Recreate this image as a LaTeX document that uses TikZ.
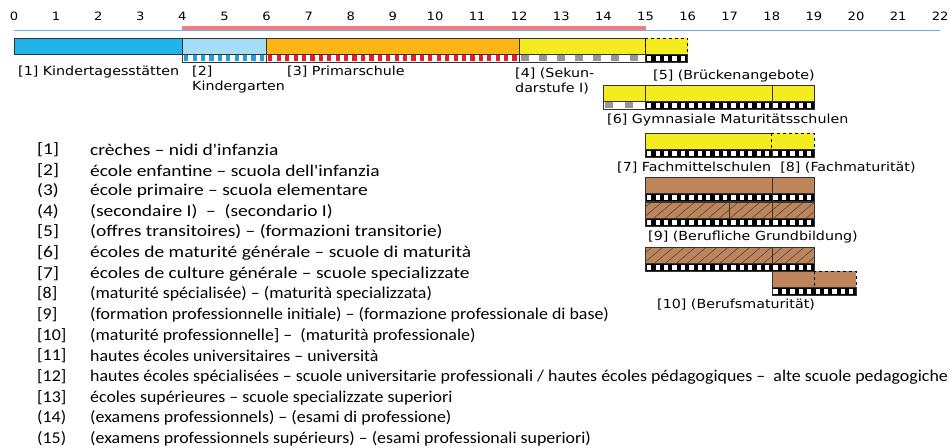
\documentclass[tikz,border=0pt]{standalone}
\usepackage{fontspec}
\setmainfont{Carlito}
\newfontfamily\chartfont[FakeStretch=1.14]{DejaVu Sans}
\newfontfamily\legendwide[FakeStretch=1.18]{Carlito}
\newfontfamily\legendnarrow[FakeStretch=1.085]{Carlito}
\usetikzlibrary{patterns.meta}
\definecolor{kitablue}{RGB}{33,180,232}
\definecolor{kgblue}{RGB}{166,221,246}
\definecolor{primorange}{RGB}{253,181,21}
\definecolor{sekyellow}{RGB}{245,236,32}
\definecolor{berufbrown}{RGB}{190,132,90}
\definecolor{stripblue}{RGB}{30,160,220}
\definecolor{stripred}{RGB}{237,28,36}
\definecolor{stripgray}{RGB}{150,150,150}
\definecolor{axisblue}{RGB}{110,175,232}
\definecolor{axisred}{RGB}{238,128,128}

\tikzset{
  barline/.style={draw=black!80,line width=0.6pt},
  dashbar/.style={draw=black,dashed,line width=0.8pt},
  hatchbar/.style={barline,preaction={fill=berufbrown},
    pattern={Lines[angle=40,distance=7pt,line width=0.5pt]},pattern color=black!75},
  yearnum/.style={font=\chartfont\fontsize{11.5}{12}\selectfont,inner sep=0pt},
  chartlabel/.style={font=\chartfont\fontsize{12.5}{15}\selectfont,anchor=west,inner sep=0pt,align=left},
  legendnum/.style={font=\legendwide\fontsize{16.5}{18}\selectfont,anchor=west,inner sep=0pt},
  legendtext/.style={font=\legendwide\fontsize{16.5}{18}\selectfont,anchor=west,inner sep=0pt},
  legendtight/.style={font=\legendnarrow\fontsize{16.5}{18}\selectfont,anchor=west,inner sep=0pt}
}

% a school bar: from year #1 to year #2, top at #3, style #4
\newcommand{\schoolbox}[4]{\draw[#4] (#1,#3) rectangle (#2,{#3+16});}
% the chequered strip below a bar: base colour #4, blocks #5, period #6, block width #7, inset #8
\newcommand{\checkstrip}[8]{%
  \begin{scope}
    \clip (#1,#3) rectangle (#2,{#3+8});
    \fill[#4] (#1,#3) rectangle (#2,{#3+8});
    \pgfmathtruncatemacro{\nblk}{(#2-#1)/#6}
    \foreach \k in {0,...,\nblk}
      \fill[#5] ({#1+0.04+\k*#6},{#3+#8}) rectangle ({#1+0.04+\k*#6+#7},{#3+8-#8});
  \end{scope}
  \draw[barline] (#1,#3) rectangle (#2,{#3+8});}

\begin{document}
\begin{tikzpicture}[x=1pt,y=-1pt]
  \useasboundingbox (0,0) rectangle (949,447);

  \begin{scope}[xshift=14pt,x=42.1pt]
    % year axis
    \foreach \n in {0,...,22}
      \node[yearnum] (year\n) at (\n,16) {\n};
    \draw[axisblue,line width=1.3pt] (0,30.3) -- (22,30.3);
    \draw[axisred,line width=4pt] (4,28.3) -- (15,28.3);

    % compulsory school
    \schoolbox{0}{4}{38}{barline,fill=kitablue}
    \schoolbox{4}{6}{38}{barline,fill=kgblue}
    \checkstrip{4}{6}{54}{white}{stripblue}{0.2}{0.1}{0.6}
    \schoolbox{6}{12}{38}{barline,fill=primorange}
    \checkstrip{6}{12}{54}{white}{stripred}{0.2}{0.1}{0.6}
    \schoolbox{12}{15}{38}{barline,fill=sekyellow}
    \checkstrip{12}{15}{54}{white}{stripgray}{0.43}{0.19}{0.6}
    \schoolbox{15}{16}{38}{dashbar,fill=sekyellow}
    \checkstrip{15}{16}{54}{black}{white}{0.2}{0.1}{1.5}

    % gymnasium
    \schoolbox{14}{15}{85}{barline,fill=sekyellow}
    \checkstrip{14}{15}{101}{white}{stripgray}{0.47}{0.19}{0.6}
    \schoolbox{15}{18}{85}{barline,fill=sekyellow}
    \checkstrip{15}{18}{101}{black}{white}{0.2}{0.1}{1.5}
    \schoolbox{18}{19}{85}{barline,fill=sekyellow}
    \checkstrip{18}{19}{101}{black}{white}{0.2}{0.1}{1.5}

    % fachmittelschulen
    \schoolbox{15}{18}{133}{barline,fill=sekyellow}
    \checkstrip{15}{18}{149}{black}{white}{0.2}{0.1}{1.5}
    \schoolbox{18}{19}{133}{dashbar,fill=sekyellow}
    \checkstrip{18}{19}{149}{black}{white}{0.2}{0.1}{1.5}

    % berufliche grundbildung
    \schoolbox{15}{18}{177}{barline,fill=berufbrown}
    \checkstrip{15}{18}{193}{black}{white}{0.2}{0.1}{1.5}
    \schoolbox{18}{19}{177}{barline,fill=berufbrown}
    \checkstrip{18}{19}{193}{black}{white}{0.2}{0.1}{1.5}
    \schoolbox{15}{17}{202}{hatchbar}
    \schoolbox{17}{18}{202}{hatchbar}
    \schoolbox{18}{19}{202}{hatchbar}
    \checkstrip{15}{19}{218}{black}{white}{0.2}{0.1}{1.5}
    \schoolbox{15}{18}{247}{hatchbar}
    \schoolbox{18}{19}{247}{hatchbar}
    \checkstrip{15}{19}{263}{black}{white}{0.2}{0.1}{1.5}

    % berufsmaturitaet
    \schoolbox{18}{19}{271}{barline,fill=berufbrown}
    \schoolbox{19}{20}{271}{dashbar,fill=berufbrown}
    \checkstrip{18}{20}{287}{black}{white}{0.2}{0.1}{1.5}
  \end{scope}

  % labels of the bars
  \node[chartlabel] (kita) at (18,72) {[1] Kindertagesstätten};
  \node[chartlabel,anchor=north west] (kg) at (192,66) {[2]\\Kindergarten};
  \node[chartlabel] (prim) at (287,72) {[3] Primarschule};
  \node[chartlabel,anchor=north west] (sek) at (515,68) {[4] (Sekun-\\darstufe I)};
  \node[chartlabel] (bruecke) at (653,76) {[5] (Brückenangebote)};
  \node[chartlabel] (gym) at (607,120) {[6] Gymnasiale Maturitätsschulen};
  \node[chartlabel] (fms) at (617,168) {[7] Fachmittelschulen\ \ [8] (Fachmaturität)};
  \node[chartlabel] (grund) at (648,237) {[9] (Berufliche Grundbildung)};
  \node[chartlabel] (bm) at (657,305) {[10] (Berufsmaturität)};

  % legend
  \node[legendnum] (n1) at (37,150) {[1]};
  \node[legendtext] (t1) at (90,150) {crèches – nidi d'infanzia};
  \node[legendnum] (n2) at (37,171) {[2]};
  \node[legendtext] (t2) at (90,171) {école enfantine – scuola dell'infanzia};
  \node[legendnum] (n3) at (37,191) {(3)};
  \node[legendtext] (t3) at (90,191) {école primaire – scuola elementare};
  \node[legendnum] (n4) at (37,212) {(4)};
  \node[legendtext] (t4) at (90,212) {(secondaire I) \ – \ (secondario I)};
  \node[legendnum] (n5) at (37,232) {[5]};
  \node[legendtext] (t5) at (90,232) {(offres transitoires) – (formazioni transitorie)};
  \node[legendnum] (n6) at (37,253) {[6]};
  \node[legendtext] (t6) at (90,253) {écoles de maturité générale – scuole di maturità};
  \node[legendnum] (n7) at (37,274) {[7]};
  \node[legendtext] (t7) at (90,274) {écoles de culture générale – scuole specializzate};
  \node[legendtight] (n8) at (37,294) {[8]};
  \node[legendtight] (t8) at (90,294) {(maturité spécialisée) – (maturità specializzata)};
  \node[legendtight] (n9) at (37,315) {[9]};
  \node[legendtight] (t9) at (90,315) {(formation professionnelle initiale) – (formazione professionale di base)};
  \node[legendtight] (n10) at (37,336) {[10]};
  \node[legendtight] (t10) at (90,336) {(maturité professionnelle] – \ (maturità professionale)};
  \node[legendtight] (n11) at (37,356) {[11]};
  \node[legendtight] (t11) at (90,356) {hautes écoles universitaires – università};
  \node[legendtight] (n12) at (37,377) {[12]};
  \node[legendtight] (t12) at (90,377) {hautes écoles spécialisées – scuole universitarie professionali / hautes écoles pédagogiques – \ alte scuole pedagogiche};
  \node[legendtight] (n13) at (37,398) {[13]};
  \node[legendtight] (t13) at (90,398) {écoles supérieures – scuole specializzate superiori};
  \node[legendtight] (n14) at (37,418) {(14)};
  \node[legendtight] (t14) at (90,418) {(examens professionnels) – (esami di professione)};
  \node[legendtight] (n15) at (37,439) {(15)};
  \node[legendtight] (t15) at (90,439) {(examens professionnels supérieurs) – (esami professionali superiori)};
\end{tikzpicture}
\end{document}
